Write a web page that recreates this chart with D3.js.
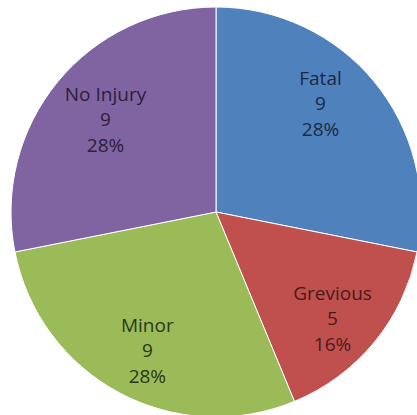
<!DOCTYPE html>
<html>
<head>
<meta charset="utf-8">
<script src="https://cdn.jsdelivr.net/npm/d3@7"></script>
<style>
  body { margin: 0; background: #fff; }
  svg { display: block; }
</style>
</head>
<body>
<svg id="chart" width="417" height="415"></svg>
<script>
'use strict';

// chart data
const categories = ["Fatal", "Grevious", "Minor", "No Injury"];
const counts = [9, 5, 9, 9];
const percentLabels = ["28%", "16%", "28%", "28%"];
const sliceColors = ["#4f81bd", "#c0504d", "#9bbb59", "#8064a2"];
const textColors = ["#1b2a45", "#4a1b1a", "#2c3619", "#2a1f3b"];
// excel "best fit" puts the labels a little off the centroid
const labelNudge = [[-13, -13], [-1, 10], [3, 4], [7, 3]];

const width = 417, height = 415;
const cx = 216, cy = 212, radius = 205;

const svg = d3.select("#chart");
const g = svg.append("g").attr("transform", "translate(" + cx + "," + cy + ")");

const rows = categories.map(function (c, i) {
    return { name: c, value: counts[i], pct: percentLabels[i], i: i };
});

const pie = d3.pie().sort(null).value(function (d) { return d.value; });
const arc = d3.arc().innerRadius(0).outerRadius(radius);
const labelArc = d3.arc().innerRadius(152).outerRadius(152);

const arcs = pie(rows);

g.selectAll("path.slice")
    .data(arcs)
    .enter().append("path")
    .attr("class", "slice")
    .attr("d", arc)
    .attr("fill", function (d) { return sliceColors[d.data.i]; })
    .attr("stroke", "#fff")
    .attr("stroke-width", 1);

// three line labels: name, value, percent
const lab = g.selectAll("text.label")
    .data(arcs)
    .enter().append("text")
    .attr("class", "label")
    .attr("transform", function (d) {
        const c = labelArc.centroid(d);
        const n = labelNudge[d.data.i];
        return "translate(" + (c[0] + n[0]) + "," + (c[1] + n[1]) + ")";
    })
    .attr("text-anchor", "middle")
    .style("font-family", "'Open Sans', sans-serif")
    .style("font-size", "19px")
    .attr("fill", function (d) { return textColors[d.data.i]; });

lab.append("tspan").attr("x", 0).attr("y", -18).text(function (d) { return d.data.name; });
lab.append("tspan").attr("x", 0).attr("y", 7).text(function (d) { return d.data.value; });
lab.append("tspan").attr("x", 0).attr("y", 33).text(function (d) { return d.data.pct; });
</script>
</body>
</html>
